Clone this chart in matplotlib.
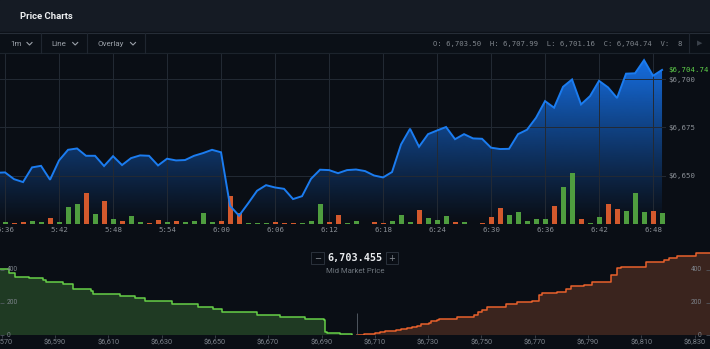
import matplotlib.pyplot as plt
import matplotlib.dates as mdates
from matplotlib.lines import Line2D
from matplotlib.patches import Rectangle
from matplotlib.colors import to_rgb
import numpy as np
import pandas as pd

W, H = 710, 349

# 1-minute closes, 5:35 .. 6:49
price = [6651.5, 6651.7, 6648.2, 6646.7, 6654.3, 6655.1, 6647.9, 6657.9, 6663.4, 6664.1,
         6660.3, 6660.3, 6655.0, 6660.1, 6655.5, 6659.1, 6660.5, 6660.3, 6655.3, 6658.8,
         6657.9, 6658.1, 6660.3, 6661.7, 6663.4, 6662.1, 6634.4, 6629.3, 6635.6, 6642.2,
         6645.1, 6643.9, 6643.2, 6637.9, 6639.4, 6648.4, 6653.1, 6652.9, 6651.3, 6652.9,
         6653.2, 6652.4, 6650.1, 6649.1, 6651.9, 6666.2, 6674.3, 6665.0, 6671.5, 6673.4,
         6675.2, 6668.9, 6671.5, 6669.3, 6669.1, 6664.5, 6663.8, 6663.9, 6671.5, 6673.8,
         6680.0, 6688.6, 6685.2, 6696.0, 6699.8, 6686.9, 6691.2, 6699.1, 6695.7, 6690.2,
         6702.8, 6703.0, 6709.8, 6701.7, 6704.74]
volume = [0, 1.2, 0.7, 1.2, 2.2, 1.7, 4.4, 1.2, 12.4, 14.3,
          22.3, 7.1, 16.5, 3.6, 2.4, 5.8, 1.5, 0.9, 3.1, 1.7,
          2.2, 1.7, 2.2, 8.0, 1.2, 2.2, 20.4, 7.8, 0.5, 0.5,
          0.5, 1.5, 0.5, 0.5, 0.5, 2.4, 14.3, 1.5, 6.3, 0.5,
          2.0, 0, 1.5, 0.5, 2.0, 6.3, 1.5, 10.4, 4.4, 2.9,
          5.8, 1.5, 1.5, 0, 0.7, 5.1, 11.6, 6.8, 8.7, 2.0,
          3.9, 3.9, 12.9, 26.7, 37.1, 3.9, 0.9, 4.9, 14.3, 11.1,
          9.5, 22.3, 8.5, 9.5, 8.0]
start_time = "2018-06-01 05:35"

last_open, last_high, last_low, last_vol = 6703.50, 6707.99, 6701.16, 8
mid_price = 6703.455

# order book depth (cumulative)
bid_price = [6569.0, 6572.9, 6575.0, 6580.4, 6585.6, 6586.6, 6593.1, 6596.9, 6603.5, 6604.4,
             6614.4, 6620.0, 6623.8, 6633.8, 6643.5, 6649.4, 6652.6, 6665.8, 6674.5, 6683.9,
             6691.1, 6691.4, 6692.0, 6694.6, 6697.0, 6699.6, 6701.4]
bid_depth = [403, 381, 357, 350, 336, 326, 312, 281, 271, 251,
             239, 230, 212, 191, 173, 159, 145, 124, 112, 100,
             92, 20, 16, 12, 9, 5, 0]
ask_price = [6703.3, 6704.5, 6706.0, 6708.0, 6710.0, 6712.0, 6714.0, 6716.0, 6718.0, 6720.0,
             6722.0, 6724.0, 6726.0, 6727.2, 6730.2, 6731.0, 6733.3, 6734.0, 6740.8, 6747.2,
             6748.7, 6750.3, 6752.2, 6759.1, 6763.5, 6769.1, 6771.8, 6772.8, 6778.4, 6781.6,
             6783.5, 6788.5, 6791.6, 6798.5, 6801.0, 6802.3, 6811.6, 6818.5, 6820.4, 6823.5,
             6830.4, 6837.0]
ask_depth = [0, 2, 5, 9, 15, 20, 24, 27, 32, 38,
             45, 50, 57, 68, 78, 86, 96, 99, 114, 124,
             145, 155, 175, 190, 205, 211, 246, 257, 267, 283,
             300, 308, 328, 369, 410, 416, 450, 460, 475, 485,
             501, 501]

price_ticks = [6650, 6675, 6700]
depth_ticks = [0, 200, 400]
depth_xticks = list(range(6570, 6831, 20))

BG = '#0a0e15'
GRID = '#232a34'
TXT = '#8b9097'
MONO = 'DejaVu Sans Mono'
SANS = 'Roboto'


def fx(px):
    return px / W


def fy(py):
    return 1 - py / H


fig = plt.figure(figsize=(W / 100, H / 100), dpi=100, facecolor=BG)

# header + toolbar
fig.add_artist(Rectangle((0, fy(32)), 1, 32 / H, transform=fig.transFigure,
                         color='#151b24', zorder=0))
fig.add_artist(Rectangle((0, fy(53)), 1, 21 / H, transform=fig.transFigure,
                         color='#0b1017', zorder=0))
fig.add_artist(Line2D([0, 1], [fy(32.5)] * 2, color='#262d37', lw=0.8))
fig.add_artist(Line2D([0, 1], [fy(53)] * 2, color='#1c232c', lw=0.8))
for sx in [41, 87.3, 145.3, 689.3]:
    fig.add_artist(Line2D([fx(sx)] * 2, [fy(33), fy(53)], color='#1f2630', lw=0.8))

fig.text(fx(20.5), fy(16.7), 'Price Charts', family=SANS, weight='bold', size=6.8,
         color='#eef0f2', va='center')
for label, lx, cx in [('1m', 10.7, 29.5), ('Line', 51.7, 75.2), ('Overlay', 97.3, 133)]:
    fig.text(fx(lx), fy(43.7), label, family=SANS, size=5.8, color='#9ba1a9', va='center')
    fig.add_artist(Line2D([fx(cx - 2.5), fx(cx), fx(cx + 2.5)],
                          [fy(42.5), fy(45), fy(42.5)], color='#9ba1a9', lw=0.8))

fig.text(fx(432.7), fy(44),
         f"O: {last_open:,.2f}  H: {last_high:,.2f}  L: {last_low:,.2f}  "
         f"C: {price[-1]:,.2f}  V:  {last_vol}",
         family=MONO, size=5.2, color='#80868d', va='center')
fig.text(fx(699.5), fy(43.5), '▶', family='DejaVu Sans', size=5, color='#3a414a',
         ha='center', va='center')

# price chart
t = mdates.date2num(pd.date_range(start_time, periods=len(price), freq='min').to_pydatetime())
minute = 1 / 1440
xlim = (t[1] - 0.56 * minute, t[1] + 73.44 * minute)
ylim = (6625.0, 6713.5)

ax = fig.add_axes([0, fy(224), 666 / W, 171 / H])
ax.set_facecolor('none')
ax_vol = ax.twinx()

rgb = to_rgb('#1673ec')
grad = np.zeros((256, 1, 4))
grad[:, 0, :3] = rgb
grad[:, 0, 3] = np.linspace(0, 1, 256) ** 1.15
im = ax.imshow(grad, extent=[xlim[0], xlim[1], ylim[0], ylim[1]], origin='lower',
               aspect='auto', zorder=0.5)
poly = ax.fill_between(t, price, ylim[0], color='none', lw=0)
im.set_clip_path(poly.get_paths()[0], transform=ax.transData)

ax.set_xlim(*xlim)
ax.set_ylim(*ylim)
ax.set_yticks(price_ticks)
ax.yaxis.tick_right()
ax.yaxis.set_major_formatter(lambda v, pos: f"${v:,.0f}")
ax.xaxis.set_major_locator(mdates.MinuteLocator(byminute=range(0, 60, 6)))
ax.xaxis.set_major_formatter(mdates.DateFormatter('%-H:%M'))
ax.tick_params(axis='both', length=0, labelsize=5.3, labelcolor=TXT)
ax.tick_params(axis='x', pad=2)
ax.tick_params(axis='y', pad=1.5, left=False, labelleft=False, right=True, labelright=True)
for lbl in ax.get_xticklabels() + ax.get_yticklabels():
    lbl.set_fontfamily(MONO)
ax.grid(True, color=GRID, lw=0.7)
for s in ax.spines.values():
    s.set_visible(False)

ax.annotate(f"${price[-1]:,.2f}", xy=(1, price[-1]), xycoords=('axes fraction', 'data'),
            xytext=(1.5, 0), textcoords='offset points', ha='left', va='center',
            family=MONO, size=5.3, color='#5fd04a', annotation_clip=False)

ax_vol.set_ylim(0, 124.4)
ax_vol.set_yticks([])
ax_vol.tick_params(left=False, right=False, labelleft=False, labelright=False)
for s in ax_vol.spines.values():
    s.set_visible(False)
up = np.diff(price, prepend=price[0]) >= 0
bar_colors = ['#4f9d3f' if u else '#d3592d' for u in up]
ax_vol.bar(t, volume, width=0.56 * minute, color=bar_colors, lw=0)
ax_vol.plot(t, price, color='#1b7cf0', lw=1.4, transform=ax.transData, solid_joinstyle='miter')

# depth chart
ax_d = fig.add_axes([0, fy(335.3), 1, 95.3 / H])
ax_d.set_facecolor('none')
ax_d.fill_between(bid_price, bid_depth, step='post', color='#1f3a23', lw=0)
ax_d.step(bid_price, bid_depth, where='post', color='#66cf47', lw=1.1)
ax_d.fill_between(ask_price, ask_depth, step='post', color='#3a241e', lw=0)
ax_d.step(ask_price, ask_depth, where='post', color='#e8612c', lw=1.1)
ax_d.vlines(mid_price, 0, 135, color='#5a616b', lw=0.6)
ax_d.set_xlim(6569.36, 6835.78)
ax_d.set_ylim(0, 583)
ax_d.set_xticks(depth_xticks, labels=[f"${v:,}" for v in depth_xticks],
                fontfamily=SANS, fontsize=5.3, color='#7d838b')
ax_d.tick_params(axis='x', length=2, width=0.5, color='#4a515b', pad=1)
ax_d.set_yticks(depth_ticks)
ax_d.tick_params(axis='y', left=True, right=True, direction='in', length=3, width=0.5,
                 color='#5a616b', labelleft=False)
for v in depth_ticks:
    ax_d.annotate(f"{v}", xy=(0, v), xycoords=('axes fraction', 'data'), xytext=(4.8, 0),
                  textcoords='offset points', ha='left', va='center', family=SANS,
                  size=4.8, color='#7d838b', zorder=5)
    ax_d.annotate(f"{v}", xy=(1, v), xycoords=('axes fraction', 'data'), xytext=(-6, 0),
                  textcoords='offset points', ha='right', va='center', family=SANS,
                  size=4.8, color='#7d838b', zorder=5)
for s in ax_d.spines.values():
    s.set_visible(False)

# mid market price
fig.text(fx(355.2), fy(258.3), f"{mid_price:,.3f}", family=MONO, weight='bold', size=7.3,
         color='#e8eaed', ha='center', va='center')
fig.text(fx(355.3), fy(271), 'Mid Market Price', family=SANS, size=5.6, color='#6f767e',
         ha='center', va='center')
for bx, bw, sym in [(311, 13.3, '−'), (386, 11.7, '+')]:
    fig.add_artist(Rectangle((fx(bx), fy(264.3)), bw / W, 12 / H, transform=fig.transFigure,
                             fill=False, ec='#2b323c', lw=0.7))
    fig.text(fx(bx + bw / 2), fy(258.3), sym, family='DejaVu Sans', size=6, color=TXT,
             ha='center', va='center')

fig.savefig('out.png', dpi=100, facecolor=BG)
